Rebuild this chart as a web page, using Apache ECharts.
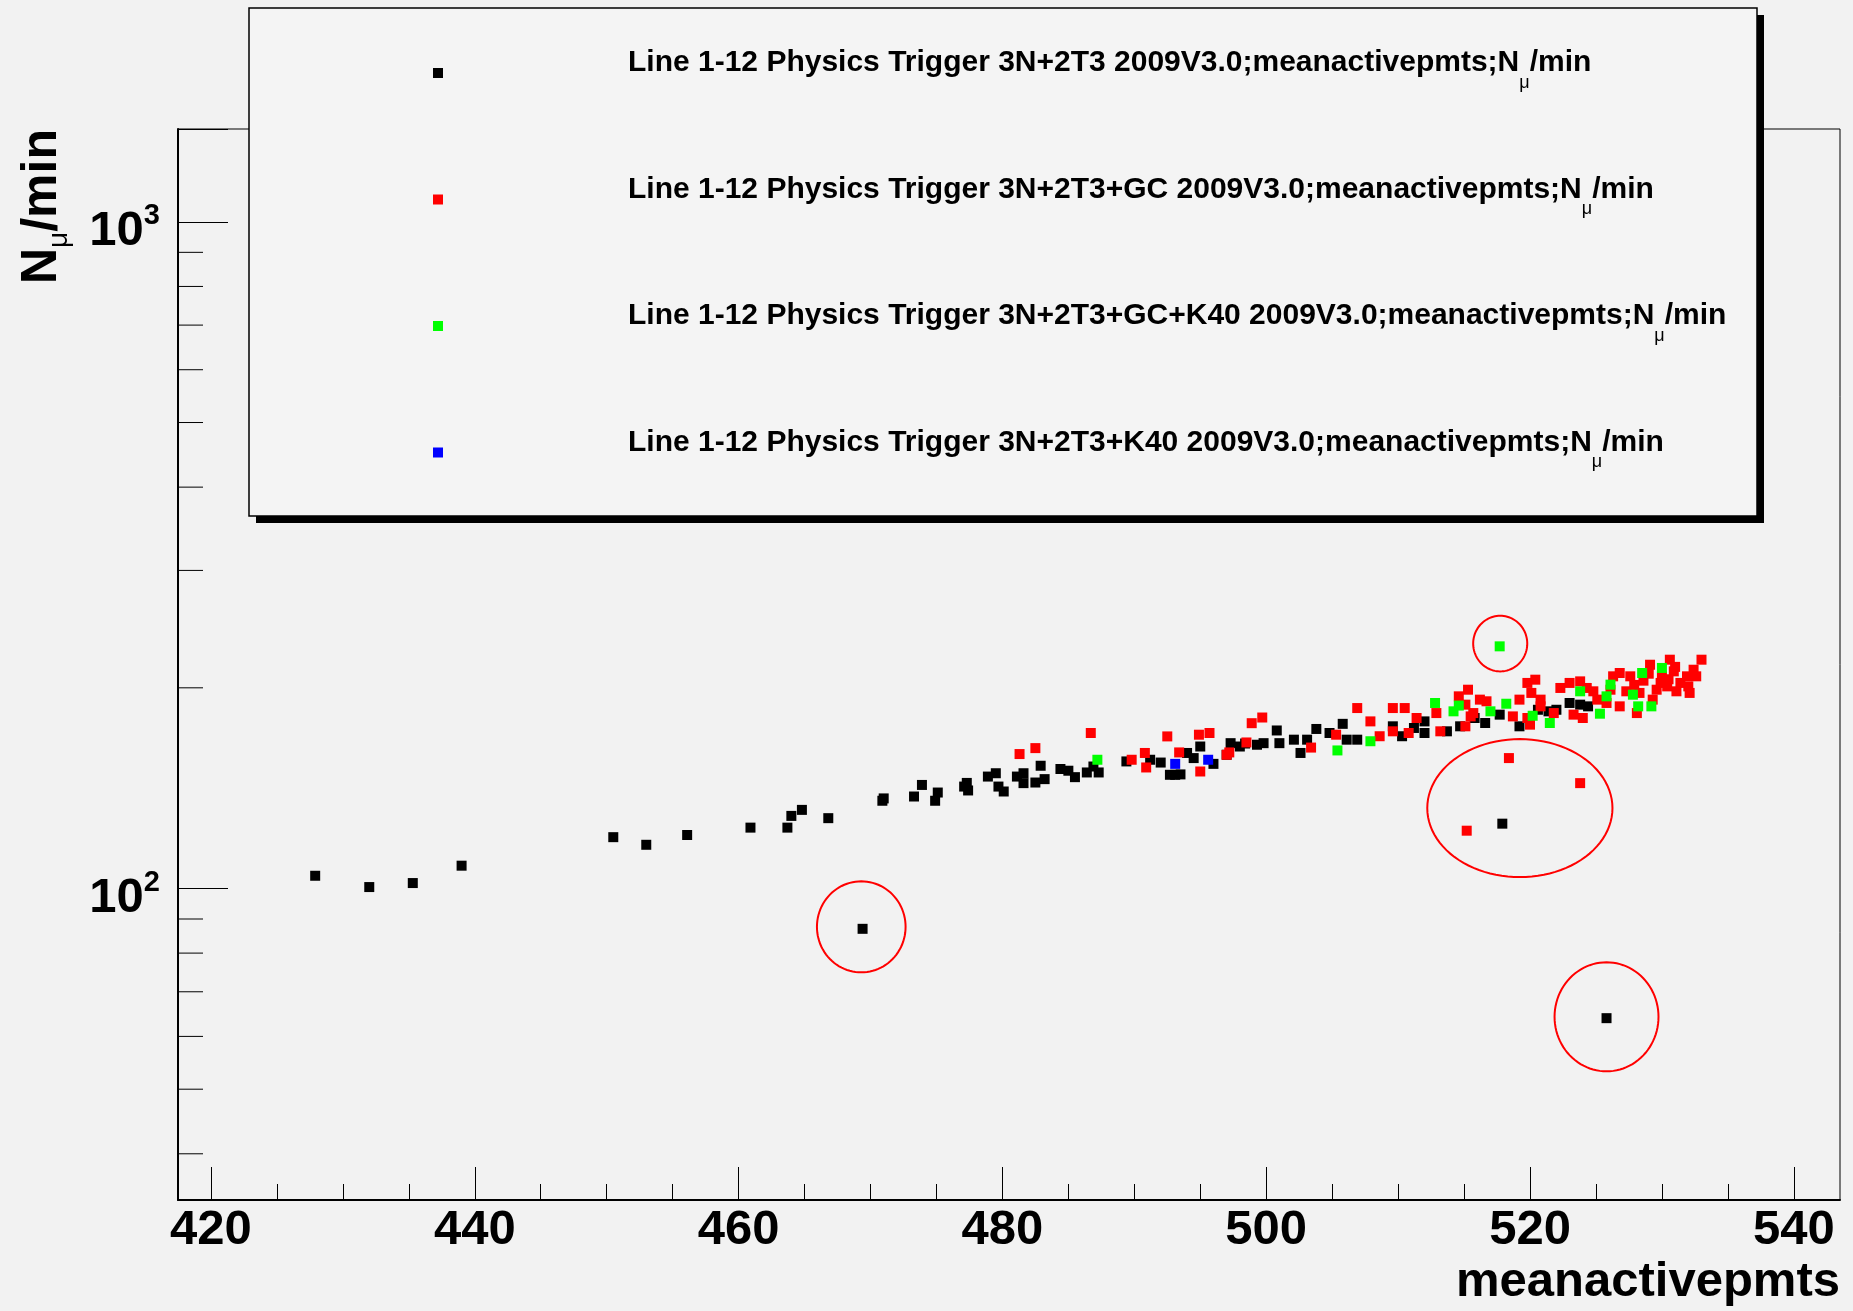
<!DOCTYPE html>
<html>
<head>
<meta charset="utf-8">
<script src="https://cdn.jsdelivr.net/npm/echarts@6/dist/echarts.min.js"></script>
<style>
html,body{margin:0;padding:0;background:#f2f2f2;}
#chart{width:1853px;height:1311px;}
</style>
</head>
<body>
<div id="chart"></div>
<script>
// ---------------- data ----------------
const seriesNames = [
  'Line 1-12 Physics Trigger 3N+2T3 2009V3.0;meanactivepmts;N\u03bc/min',
  'Line 1-12 Physics Trigger 3N+2T3+GC 2009V3.0;meanactivepmts;N\u03bc/min',
  'Line 1-12 Physics Trigger 3N+2T3+GC+K40 2009V3.0;meanactivepmts;N\u03bc/min',
  'Line 1-12 Physics Trigger 3N+2T3+K40 2009V3.0;meanactivepmts;N\u03bc/min'
];
const seriesColors = ['#000000', '#ff0000', '#00ff00', '#0000ff'];

const blackPts = [
  [427.9,104.5],[432.0,100.5],[435.3,101.9],[439.0,108.2],[450.5,119.4],[453.0,116.3],[456.1,120.3],
  [460.9,123.4],[463.7,123.4],[464.0,128.5],[464.8,131.2],[466.8,127.5],[469.4,87.0],
  [470.9,135.4],[471.0,136.5],[473.9,143.0],[473.3,137.4],[474.9,135.4],[475.1,139.3],[477.1,142.2],
  [477.3,144.0],[477.4,140.3],[478.9,147.2],[479.5,148.9],[479.7,142.2],[480.1,139.8],[481.1,147.2],
  [481.6,148.9],[481.6,143.9],[482.5,144.2],[483.2,145.9],[482.9,152.8],[484.4,151.1],[485.0,150.2],
  [485.5,146.9],[486.4,149.3],[487.3,149.3],[486.9,152.4],[489.4,155.1],[491.2,156.0],[492.0,154.5],
  [492.7,148.1],[493.1,148.1],[493.5,148.3],[494.0,159.7],[494.5,156.9],[495.0,163.3],[496.0,153.8],
  [497.3,165.2],[497.0,158.7],[498.0,163.3],[498.4,165.0],[499.3,164.3],[499.8,165.2],[500.8,172.6],
  [501.0,165.2],[502.1,167.2],[502.6,159.7],[503.1,167.2],[503.8,173.5],[504.8,171.1],[505.8,176.6],
  [506.1,167.2],[506.9,167.2],[509.6,175.1],[510.3,169.2],[511.2,174.1],[512.0,178.1],[512.0,171.1],
  [513.7,172.1],[514.7,175.1],[515.8,180.2],[516.6,177.1],[517.7,182.3],[519.2,175.1],[520.6,185.4],
  [521.4,184.4],[522.0,185.4],[523.0,189.8],[523.8,188.7],[524.4,187.6],[517.9,125.1],[525.8,63.9]
];
const redPts = [
  [481.3,159.1],[482.5,162.4],[486.7,171.1],[489.8,156.0],[490.8,159.7],[490.9,151.9],[492.5,169.1],
  [493.4,160.0],[494.9,170.1],[495.7,171.1],[495.0,149.8],[497.0,158.7],[497.2,160.0],[498.5,165.6],
  [498.9,177.0],[499.7,180.5],[503.4,162.7],[505.3,170.1],[506.9,186.5],
  [507.9,178.1],[508.6,169.2],[509.6,186.5],[510.5,186.5],[509.6,172.1],[510.8,171.1],[511.4,180.2],
  [512.9,183.3],[513.2,172.1],[514.6,194.2],[515.3,198.7],[515.1,188.7],[515.5,181.2],[515.1,175.1],
  [515.7,183.3],[516.7,190.9],[516.2,192.0],[518.4,156.9],[519.2,192.0],[519.8,203.4],[520.4,205.7],
  [520.1,196.5],[518.7,181.2],[519.8,180.2],[520.8,187.6],[522.3,199.9],[523.0,203.4],[523.8,204.5],
  [524.3,199.9],[524.8,197.6],[523.3,182.3],[524.0,180.2],[525.1,192.0],[526.3,208.1],[526.8,210.5],
  [527.6,208.1],[529.1,216.6],[530.0,208.1],[530.6,220.4],[530.9,211.7],[531.4,203.4],[531.9,208.1],
  [532.4,212.9],[533.0,220.4],[532.6,208.1],[529.6,198.7],[530.4,201.0],[531.1,197.6],[532.1,196.5],
  [528.1,183.3],[526.8,187.6],[525.8,189.8],[523.8,143.9],[515.2,122.1],[520.0,176.1],[521.8,183.3],
  [520.8,192.0],[526.1,198.7],[527.3,197.6],[528.3,196.5],[529.3,192.0],[529.9,203.4],
  [528.6,205.0],[531.0,215.0],[532.0,201.0],[527.9,202.0],[529.0,210.0],[530.5,206.0]
];
const greenPts = [
  [487.2,156.0],[505.4,161.1],[507.9,166.3],[512.8,189.8],[514.2,184.4],[514.6,188.1],[517.0,184.4],
  [518.2,189.3],[520.2,181.6],[521.5,177.1],[523.8,197.6],[525.3,182.9],[525.8,194.2],[526.1,202.2],
  [527.8,195.3],[528.2,187.6],[528.5,210.5],[529.2,187.6],[530.0,214.2],[517.7,230.8]
];
const bluePts = [[493.1,153.8],[495.6,156.0]];

// hand-drawn annotation ellipses: [centre x, centre y, half-width in x units, half-height in decades]
const annotationEllipses = [
  [469.3, 87.6, 3.36, 0.0683],
  [517.74, 233.0, 2.05, 0.0417],
  [519.23, 132.0, 7.02, 0.1035],
  [525.8, 64.2, 3.94, 0.0818]
];

// axes
const X_MIN = 417.5, X_MAX = 543.5;
const X_TICK_MIN = 420, X_TICK_MAX = 540, X_TICK_STEP = 20;
const Y_MIN = 34.1, Y_MAX = 1378;
const yMinorTicks = [40, 50, 60, 70, 80, 90, 200, 300, 400, 500, 600, 700, 800, 900];
const xTitle = 'meanactivepmts';
const yTitle = 'N\u03bc/min';

// ---------------- layout ----------------
const FONT = 'Liberation Sans';
const W = 1853;
const GRID = {left: 178, right: 13, top: 129, bottom: 111};
const pxPerUnit = (W - GRID.left - GRID.right) / (X_MAX - X_MIN);
const TICK_GRID = {
  left: GRID.left + (X_TICK_MIN - X_MIN) * pxPerUnit,
  right: GRID.right + (X_MAX - X_TICK_MAX) * pxPerUnit,
  top: GRID.top, bottom: GRID.bottom
};

const chart = echarts.init(document.getElementById('chart'), null, {renderer: 'canvas'});

const scatterSeries = [blackPts, redPts, greenPts, bluePts].map((pts, i) => ({
  type: 'scatter',
  name: seriesNames[i],
  xAxisIndex: 0, yAxisIndex: 0,
  data: pts,
  symbol: 'rect',
  symbolSize: 10,
  silent: true,
  itemStyle: {color: seriesColors[i], opacity: 1},
  emphasis: {disabled: true},
  z: 3 + i
}));

const option = {
  backgroundColor: '#f2f2f2',
  animation: false,
  textStyle: {fontFamily: FONT},
  graphic: [
    {type: 'rect', z: 10, shape: {x: 256, y: 15, width: 1508, height: 508}, style: {fill: '#000'}},
    {type: 'rect', z: 11, shape: {x: 249, y: 8, width: 1508, height: 508},
      style: {fill: '#f4f4f4', stroke: '#000', lineWidth: 1.5}}
  ],
  legend: {
    z: 20,
    orient: 'vertical',
    left: 433,
    top: 48,
    padding: 0,
    itemGap: 82.5,
    itemWidth: 10,
    itemHeight: 10,
    icon: 'rect',
    selectedMode: false,
    data: seriesNames,
    itemStyle: {opacity: 1},
    formatter: name => '{t|' + name.replace('\u03bc', '}{u|\u03bc}{t|') + '}',
    textStyle: {
      fontFamily: FONT, fontWeight: 'bold', fontSize: 30, color: '#000',
      padding: [0, 0, 14, 180],
      rich: {
        t: {fontFamily: FONT, fontWeight: 'bold', fontSize: 30, lineHeight: 36, verticalAlign: 'top', color: '#000'},
        u: {fontFamily: FONT, fontWeight: 'normal', fontSize: 18, lineHeight: 18, padding: [26, 0, 0, 0], verticalAlign: 'top', color: '#000'}
      }
    }
  },
  grid: [
    Object.assign({show: true, borderColor: '#000', borderWidth: 1, backgroundColor: 'transparent'}, GRID),
    Object.assign({show: false}, TICK_GRID)
  ],
  xAxis: [
    {
      gridIndex: 0, type: 'value', min: X_MIN, max: X_MAX,
      axisLine: {show: true, onZero: false, lineStyle: {color: '#000', width: 2}},
      axisTick: {show: false}, axisLabel: {show: false}, splitLine: {show: false},
      name: xTitle, nameLocation: 'end', nameGap: 0, nameMoveOverlap: false,
      nameTextStyle: {
        fontFamily: FONT, fontWeight: 'bold', fontSize: 49, color: '#000',
        align: 'right', verticalAlign: 'top', lineHeight: 50, padding: [57, 0, 0, 0]
      }
    },
    {
      gridIndex: 1, type: 'value', min: X_TICK_MIN, max: X_TICK_MAX, interval: X_TICK_STEP,
      axisLine: {show: false, onZero: false},
      axisTick: {show: true, inside: true, length: 33, lineStyle: {color: '#000', width: 1}},
      minorTick: {show: true, splitNumber: 4, length: 16, lineStyle: {color: '#000', width: 1}},
      axisLabel: {show: true, margin: 6, fontFamily: FONT, fontWeight: 'bold', fontSize: 49, color: '#000'},
      splitLine: {show: false}, minorSplitLine: {show: false}
    }
  ],
  yAxis: [
    {
      gridIndex: 0, type: 'log', logBase: 10, min: Y_MIN, max: Y_MAX,
      axisLine: {show: true, onZero: false, lineStyle: {color: '#000', width: 2}},
      axisTick: {show: true, inside: true, length: 50, lineStyle: {color: '#000', width: 1}},
      minorTick: {show: false},
      splitLine: {show: false},
      axisLabel: {
        show: true, margin: 18, padding: [20, 0, 0, 0],
        formatter: v => {
          const l = Math.log10(v), e = Math.round(l);
          if (Math.abs(l - e) > 1e-6) return '';
          return '{b|10}{s|' + e + '}';
        },
        rich: {
          b: {fontFamily: FONT, fontWeight: 'bold', fontSize: 49, lineHeight: 60, color: '#000'},
          s: {fontFamily: FONT, fontWeight: 'bold', fontSize: 29, lineHeight: 30, verticalAlign: 'top', color: '#000'}
        }
      },
      name: '{m|N}{u|\u03bc}{m|/min}', nameLocation: 'end', nameGap: 0, nameRotate: 90, nameMoveOverlap: false,
      nameTextStyle: {
        align: 'right', verticalAlign: 'bottom', padding: [0, 0, 111, 0],
        rich: {
          m: {fontFamily: FONT, fontWeight: 'bold', fontSize: 50, lineHeight: 50, verticalAlign: 'top', color: '#000'},
          u: {fontFamily: FONT, fontWeight: 'normal', fontSize: 28, lineHeight: 28, padding: [28, 0, 0, 0], verticalAlign: 'top', color: '#000'}
        }
      }
    },
    {gridIndex: 1, type: 'value', show: false, splitLine: {show: false}}
  ],
  series: scatterSeries.concat([
    {
      type: 'custom', name: 'yMinorTicks', xAxisIndex: 0, yAxisIndex: 0, silent: true, z: 2,
      data: yMinorTicks.map(v => [X_MIN, v]),
      renderItem: (params, api) => {
        const p = api.coord([api.value(0), api.value(1)]);
        return {type: 'line', shape: {x1: p[0], y1: p[1], x2: p[0] + 25, y2: p[1]},
          style: {stroke: '#000', lineWidth: 1}};
      }
    },
    {
      type: 'custom', name: 'annotations', xAxisIndex: 0, yAxisIndex: 0, silent: true, z: 8,
      data: annotationEllipses,
      renderItem: (params, api) => {
        const cx = api.value(0), cy = api.value(1), rx = api.value(2), rd = api.value(3);
        const c = api.coord([cx, cy]);
        const prx = api.coord([cx + rx, cy])[0] - c[0];
        const pry = c[1] - api.coord([cx, cy * Math.pow(10, rd)])[1];
        const pts = [];
        for (let k = 0; k < 96; k++) {
          const a = k / 96 * Math.PI * 2;
          pts.push([c[0] + prx * Math.cos(a), c[1] + pry * Math.sin(a)]);
        }
        return {type: 'polygon', shape: {points: pts},
          style: {fill: 'none', stroke: '#ff0000', lineWidth: 2}};
      }
    }
  ])
};
chart.setOption(option);
</script>
</body>
</html>
